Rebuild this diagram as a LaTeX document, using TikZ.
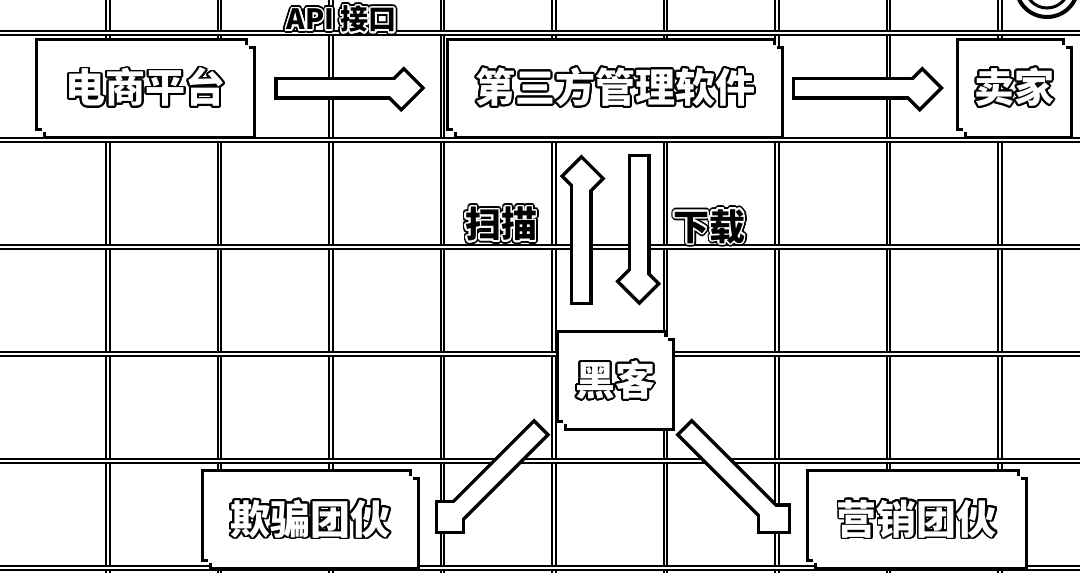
\documentclass[tikz,border=0pt]{standalone}
\usepackage{fontspec}
\usepackage{contour}
\usetikzlibrary{positioning, calc, decorations.markings}
\newfontfamily\cjk{Noto Sans CJK SC}
\contournumber{24}

% hollow letters for the boxes, black letters with a halo for the tags
\newcommand{\boxtext}[1]{\textcolor{white}{\contourlength{1.8pt}\contour{black}{#1}}}
\newcommand{\tagtext}[1]{\rlap{\contourlength{3.4pt}\contour{black}{#1}}{\contourlength{1.5pt}\contour{white}{#1}}}

\tikzset{
  sketchbox/.style={
    rectangle, fill=white, inner sep=0pt, minimum height=87pt,
    font=\cjk\bfseries\fontsize{40}{44}\selectfont, align=center,
    preaction={draw=black, line width=6pt, transform canvas={shift={(-4pt,4pt)}}},
    preaction={draw=black, line width=6pt, transform canvas={shift={(4pt,-4pt)}}},
    preaction={fill=white, transform canvas={shift={(-4pt,4pt)}}},
    preaction={fill=white, transform canvas={shift={(4pt,-4pt)}}}
  },
  hollowarrow/.style={
    draw=white, line width=16pt, shorten <=3.5pt,
    preaction={draw=black, line width=23pt, shorten <=0pt},
    preaction={decorate, decoration={markings, mark=at position 1 with
      {\draw[black, line width=23pt] (-16pt,16pt) -- (0pt,0pt) -- (-16pt,-16pt);}}},
    postaction={decorate, decoration={markings, mark=at position 1 with
      {\draw[white, line width=16pt] (-13.5pt,13.5pt) -- (0pt,0pt) -- (-13.5pt,-13.5pt);}}}
  },
  gridline/.style={draw=black, line width=1.8pt, double=white, double distance=1.6pt},
  tag/.style={font=\cjk\bfseries\fontsize{36}{40}\selectfont, inner sep=0pt},
  smalltag/.style={tag, font=\cjk\bfseries\fontsize{28}{32}\selectfont},
}

\begin{document}
\begin{tikzpicture}[x=1pt, y=-1pt]
  \useasboundingbox (0,0) rectangle (1080,573);
  \clip (0,0) rectangle (1080,573);

  % background grid
  \foreach \gx in {108,219.5,331,442.5,554,665.5,777,888.5,1000}
    \draw[gridline] (\gx,0) -- (\gx,573);
  \foreach \gy in {33,140,247,354,461,568}
    \draw[gridline] (0,\gy) -- (1080,\gy);

  % logo in the corner
  \draw[line width=4pt] (1047,-14) circle (31pt);
  \draw[line width=3pt] (1047,-14) circle (22pt);

  \node[sketchbox, minimum width=207pt] (ecom) at (145.5,88) {\boxtext{电商平台}};
  \node[sketchbox, minimum width=324pt, right=204pt of ecom] (soft) {\boxtext{第三方管理软件}};
  \node[sketchbox, minimum width=103pt, right=185pt of soft] (seller) {\boxtext{卖家}};
  \node[sketchbox, minimum width=105pt, below=205.5pt of soft] (hacker) {\boxtext{黑客}};
  \node[sketchbox, minimum width=205pt, below left=51.5pt and 149.5pt of hacker] (fraud) {\boxtext{欺骗团伙}};
  \node[sketchbox, minimum width=208pt, below right=51.5pt and 144.5pt of hacker] (market) {\boxtext{营销团伙}};

  \draw[hollowarrow] ([xshift=25pt]ecom.east) -- node[smalltag, above=44pt] {\tagtext{API 接口}} ([xshift=-44pt]soft.west);
  \draw[hollowarrow] ([xshift=14pt]soft.east) -- ([xshift=-35pt]seller.west);
  \draw[hollowarrow] ([xshift=-34pt, yshift=32pt]hacker.north) -- node[tag, pos=0.59, left=36pt] {\tagtext{扫描}} ([xshift=-34pt, yshift=-39pt]soft.south);
  \draw[hollowarrow] ([xshift=24pt, yshift=-22pt]soft.south) -- node[tag, pos=0.55, right=26pt] {\tagtext{下载}} ([xshift=24pt, yshift=48pt]hacker.north);
  \draw[hollowarrow] ([xshift=-20.5pt, yshift=-2pt]hacker.south west) -- ([xshift=33pt, yshift=-46.5pt]fraud.north east);
  \draw[hollowarrow] ([xshift=15.5pt, yshift=-2pt]hacker.south east) -- ([xshift=-33pt, yshift=-46.5pt]market.north west);
\end{tikzpicture}
\end{document}
